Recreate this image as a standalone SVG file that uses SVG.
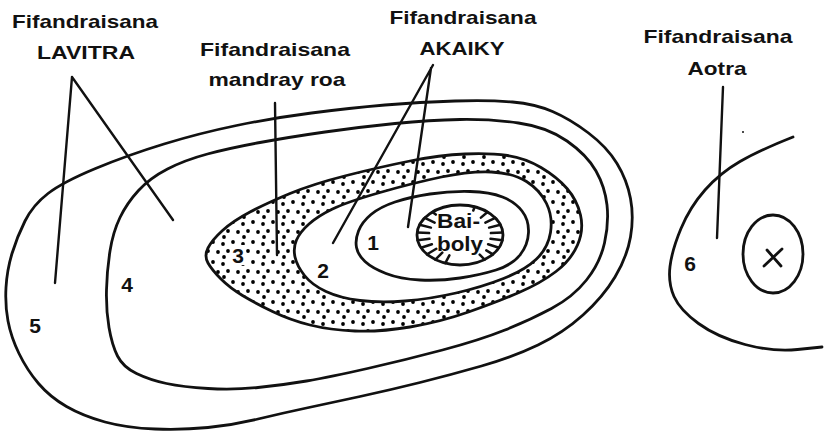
<svg xmlns="http://www.w3.org/2000/svg" width="830" height="432" viewBox="0 0 830 432">
<defs>
<pattern id="dots" width="20" height="20" patternUnits="userSpaceOnUse">
<circle cx="3" cy="4" r="1.9"/><circle cx="13" cy="2" r="1.9"/><circle cx="8" cy="11" r="1.9"/><circle cx="18" cy="12" r="1.9"/><circle cx="4" cy="17" r="1.9"/>
</pattern>
<style>
.ring{fill:none;stroke:#111;stroke-width:2.8;stroke-linejoin:round;stroke-linecap:round}
.lead{fill:none;stroke:#111;stroke-width:2.4;stroke-linecap:round}
.tick{fill:none;stroke:#111;stroke-width:2.5;stroke-linecap:round}
.lbl{font-family:"Liberation Sans",Arial,sans-serif;font-weight:bold;font-size:19px;fill:#111;text-anchor:middle}
.num{font-family:"Liberation Sans",Arial,sans-serif;font-weight:bold;font-size:21px;fill:#111;text-anchor:middle}
</style>
</defs>
<rect width="830" height="432" fill="#fff"/>
<g id="zone5">
<path class="ring" d="M48,193.5 Q63,182 95.5,168.5 Q128,155 164,144 Q200,133 236.5,125.5 Q273,118 311.5,113 Q350,108 385,105 Q420,102 455,101 Q490,100 512.5,102 Q535,104 552.5,111.5 Q570,119 588.5,133 Q607,147 617,163.5 Q627,180 630.5,198.5 Q634,217 630.5,237 Q627,257 615,277 Q603,297 583,315 Q563,333 538,345 Q513,357 481.5,366 Q450,375 420,382.5 Q390,390 360,396.5 Q330,403 306.5,408 Q283,413 258,419 Q233,425 208,427.5 Q183,430 155,429 Q127,428 105,422 Q83,416 66.5,406.5 Q50,397 38.5,383.5 Q27,370 19,353.5 Q11,337 8,321 Q5,305 6,287.5 Q7,270 12,253.5 Q17,237 25,221 Q33,205 48,193.5 Z"/>
<text class="num" x="35" y="333">5</text>
</g>
<g id="zone4">
<path class="ring" d="M120,217.5 Q127,203 138.5,190.5 Q150,178 167.5,169 Q185,160 207.5,154 Q230,148 260,142.5 Q290,137 325,132 Q360,127 395,123.5 Q430,120 460,119.5 Q490,119 518.5,123 Q547,127 567,141 Q587,155 596,171 Q605,187 607,205 Q609,223 604.5,243 Q600,263 586.5,280 Q573,297 551.5,308.5 Q530,320 505,330 Q480,340 442.5,350 Q405,360 367.5,368.5 Q330,377 306.5,381 Q283,385 258,387.5 Q233,390 208,388.5 Q183,387 166.5,383.5 Q150,380 136.5,373.5 Q123,367 117.5,356 Q112,345 109,327.5 Q106,310 106.5,290 Q107,270 110,251 Q113,232 120,217.5 Z"/>
<text class="num" x="127" y="292">4</text>
</g>
<g id="zone3">
<path fill="url(#dots)" fill-rule="evenodd" stroke="none" d="M208,263 Q204,256 208,248 Q212,240 222.5,230.5 Q233,221 250,212 Q267,203 290,193.5 Q313,184 346.5,175.5 Q380,167 410,161 Q440,155 465,154 Q490,153 507.5,155.5 Q525,158 541,167.5 Q557,177 567,188.5 Q577,200 580.5,215 Q584,230 577.5,245 Q571,260 556,271.5 Q541,283 519,292.5 Q497,302 468.5,312 Q440,322 410,327 Q380,332 355,331 Q330,330 310,325 Q290,320 272.5,311.5 Q255,303 242.5,295.5 Q230,288 221,279 Q212,270 208,263 Z M295,257 Q293,248 296.5,240 Q300,232 309,224 Q318,216 332.5,209 Q347,202 380,192.5 Q413,183 441.5,177 Q470,171 491.5,172 Q513,173 526.5,181.5 Q540,190 546.5,203.5 Q553,217 550.5,232.5 Q548,248 536.5,259 Q525,270 503.5,278.5 Q482,287 456,293 Q430,299 405,301 Q380,303 360,300.5 Q340,298 326,291.5 Q312,285 304.5,275.5 Q297,266 295,257 Z"/>
<path class="ring" d="M208,263 Q204,256 208,248 Q212,240 222.5,230.5 Q233,221 250,212 Q267,203 290,193.5 Q313,184 346.5,175.5 Q380,167 410,161 Q440,155 465,154 Q490,153 507.5,155.5 Q525,158 541,167.5 Q557,177 567,188.5 Q577,200 580.5,215 Q584,230 577.5,245 Q571,260 556,271.5 Q541,283 519,292.5 Q497,302 468.5,312 Q440,322 410,327 Q380,332 355,331 Q330,330 310,325 Q290,320 272.5,311.5 Q255,303 242.5,295.5 Q230,288 221,279 Q212,270 208,263 Z"/>
<rect x="230" y="245" width="16" height="20" fill="#fff"/>
<text class="num" x="238" y="263">3</text>
</g>
<g id="zone2">
<path class="ring" d="M295,257 Q293,248 296.5,240 Q300,232 309,224 Q318,216 332.5,209 Q347,202 380,192.5 Q413,183 441.5,177 Q470,171 491.5,172 Q513,173 526.5,181.5 Q540,190 546.5,203.5 Q553,217 550.5,232.5 Q548,248 536.5,259 Q525,270 503.5,278.5 Q482,287 456,293 Q430,299 405,301 Q380,303 360,300.5 Q340,298 326,291.5 Q312,285 304.5,275.5 Q297,266 295,257 Z"/>
<text class="num" x="323" y="278">2</text>
</g>
<g id="zone1">
<path class="ring" d="M356.5,247.5 Q355,240 358.5,231 Q362,222 371,214.5 Q380,207 395,202 Q410,197 430,194 Q450,191 470,191.5 Q490,192 502.5,197 Q515,202 522,211 Q529,220 528.5,232.5 Q528,245 520,255 Q512,265 496,270 Q480,275 460,278 Q440,281 420,280 Q400,279 386,273.5 Q372,268 365,261.5 Q358,255 356.5,247.5 Z"/>
<text class="num" x="373" y="250">1</text>
</g>
<g id="baiboly">
<ellipse class="ring" cx="460" cy="235" rx="43" ry="30"/>
<path class="tick" d="M445.3,263.2L449.4,255.4 M435.3,259.6L442.3,252.7 M427.1,254.3L436.3,248.8 M421,247.7L431.9,244.2 M417.6,240.2L429.5,238.8 M417.2,232.4L429.1,233.1 M419.6,224.7L430.9,227.6 M424.8,217.8L434.6,222.6 M432.4,212L435.8,214.6 M474.7,206.8L473.3,210.5 M487.6,212L480.9,217.6 M495.2,217.8L485.4,222.6 M500.4,224.7L489.1,227.6 M502.8,232.4L490.9,233.1 M502.4,240.2L490.5,238.8 M499,247.7L488.1,244.2 M492.9,254.3L486.3,250.4 M484.7,259.6L479.7,254.7"/>
<text class="num" x="458.5" y="228" textLength="43" lengthAdjust="spacingAndGlyphs">Bai-</text>
<text class="num" x="460" y="251" textLength="46" lengthAdjust="spacingAndGlyphs">boly</text>
</g>
<g id="zone6">
<path class="ring" d="M793,137 Q760,150 740,161.5 Q720,173 705,190 Q690,207 681,228.5 Q672,250 670,266.5 Q668,283 674,296.5 Q680,310 698.5,323.5 Q717,337 745,344.5 Q773,352 797.5,349.5 L822,347"/>
<circle cx="743" cy="132" r="1" fill="#111"/>
<text class="num" x="690" y="271">6</text>
</g>
<g id="site-x">
<ellipse class="ring" cx="773" cy="254" rx="30" ry="39"/>
<path class="ring" d="M764,266L782,249 M767,250L781,266"/>
</g>
<g id="connectors">
<path class="lead" d="M72,77L55,283 M72,77L173,220"/>
<path class="lead" d="M275,103L277,255"/>
<path class="lead" d="M433,65L333,243 M431,68L408,227"/>
<path class="lead" d="M723,87L717,238"/>
</g>
<g id="label-lavitra">
<text class="lbl" x="85" y="28" textLength="146" lengthAdjust="spacingAndGlyphs">Fifandraisana</text>
<text class="lbl" x="86" y="59" textLength="98" lengthAdjust="spacingAndGlyphs">LAVITRA</text>
</g>
<g id="label-mandray-roa">
<text class="lbl" x="275" y="56" textLength="150" lengthAdjust="spacingAndGlyphs">Fifandraisana</text>
<text class="lbl" x="277" y="86" textLength="137" lengthAdjust="spacingAndGlyphs">mandray roa</text>
</g>
<g id="label-akaiky">
<text class="lbl" x="463" y="24" textLength="147" lengthAdjust="spacingAndGlyphs">Fifandraisana</text>
<text class="lbl" x="462" y="55" textLength="85" lengthAdjust="spacingAndGlyphs">AKAIKY</text>
</g>
<g id="label-aotra">
<text class="lbl" x="718" y="43" textLength="149" lengthAdjust="spacingAndGlyphs">Fifandraisana</text>
<text class="lbl" x="717" y="75" textLength="59" lengthAdjust="spacingAndGlyphs">Aotra</text>
</g>
</svg>
